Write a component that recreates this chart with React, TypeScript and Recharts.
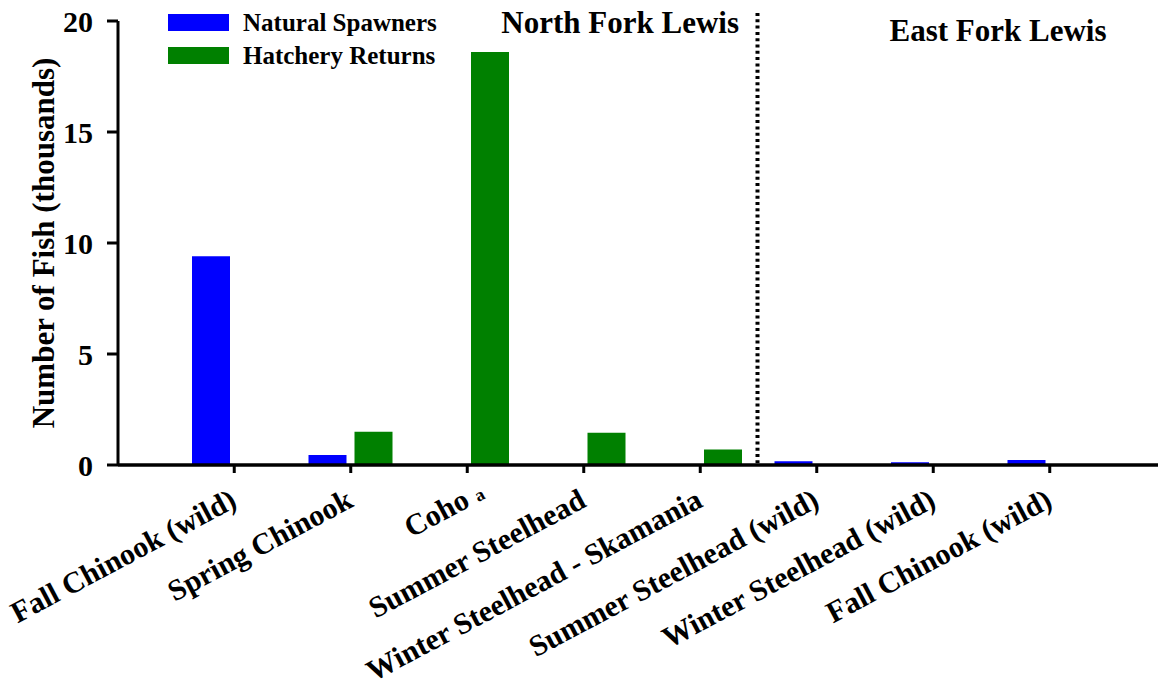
import { BarChart, Bar, XAxis, YAxis, ReferenceLine } from 'recharts';

const categoryKeys = ['nf-fall', 'nf-spring', 'nf-coho', 'nf-summer', 'nf-skamania', 'ef-summer', 'ef-winter', 'ef-fall'];
const categoryLabels = [
  'Fall Chinook (wild)',
  'Spring Chinook',
  'Coho',
  'Summer Steelhead',
  'Winter Steelhead - Skamania',
  'Summer Steelhead (wild)',
  'Winter Steelhead (wild)',
  'Fall Chinook (wild)',
];
const naturalSpawners = [9.4, 0.45, 0, 0, 0, 0.17, 0.12, 0.22];
const hatcheryReturns = [0, 1.5, 18.6, 1.45, 0.7, 0, 0, 0];
const yTicks = [0, 5, 10, 15, 20];
const seriesNames = ['Natural Spawners', 'Hatchery Returns'];
const seriesColors = ['#0000ff', '#008000'];
const footnoteIndex = 2;

const data = categoryKeys.map((key, i) => ({
  key,
  natural: naturalSpawners[i],
  hatchery: hatcheryReturns[i],
}));

const FONT = '"Liberation Serif", "Times New Roman", serif';

function CategoryTick(props: any) {
  const { x, y, payload } = props;
  const i = payload.index;
  return (
    <g transform={`translate(${x + 4},${y + 31}) rotate(-28)`}>
      <text x={0} y={0} textAnchor="end" fontFamily={FONT} fontWeight="bold" fontSize={30} fill="#000">
        {categoryLabels[i]}
      </text>
      {i === footnoteIndex && (
        <text x={8} y={0} fontFamily={FONT} fontWeight="bold" fontSize={18} fill="#000">a</text>
      )}
    </g>
  );
}

function YTitle(props: any) {
  const { viewBox } = props;
  const cy = viewBox.y + viewBox.height / 2;
  return (
    <text
      x={54}
      y={cy}
      transform={`rotate(-90, 54, ${cy})`}
      textAnchor="middle"
      fontFamily={FONT}
      fontWeight="bold"
      fontSize={31}
      fill="#000"
    >
      Number of Fish (thousands)
    </text>
  );
}

function LegendBox() {
  return (
    <div style={{ position: 'absolute', left: 168, top: 6, fontFamily: FONT, fontWeight: 'bold', fontSize: 25, lineHeight: 1 }}>
      {seriesNames.map((name, i) => (
        <div key={name} style={{ display: 'flex', alignItems: 'center', height: 33 }}>
          <div style={{ width: 61, height: 17, background: seriesColors[i], marginRight: 14 }} />
          <span style={{ color: '#000', whiteSpace: 'nowrap' }}>{name}</span>
        </div>
      ))}
    </div>
  );
}

function DottedDivider(props: any) {
  const { x1, y1, x2, y2 } = props;
  const top = Math.min(y1, y2) - 8;
  const bottom = Math.max(y1, y2);
  return <line x1={x1 - 1} x2={x2 - 1} y1={top} y2={bottom} stroke="#000" strokeWidth={4} strokeDasharray="3 3.3" />;
}

export default function App() {
  return (
    <div style={{ position: 'absolute', left: 0, top: 0, width: 1158, height: 692, background: '#fff' }}>
      <BarChart
        width={1158}
        height={692}
        data={data}
        margin={{ top: 21, right: 0, bottom: 0, left: 0 }}
        barSize={38}
        barGap={8}
      >
        <XAxis
          dataKey="key"
          height={227}
          interval={0}
          padding={{ left: 58, right: 50 }}
          axisLine={{ stroke: '#000', strokeWidth: 3.5 }}
          tickLine={{ stroke: '#000', strokeWidth: 3 }}
          tickSize={8}
          tick={<CategoryTick />}
        />
        <YAxis
          width={118}
          domain={[0, 20]}
          ticks={yTicks}
          interval={0}
          axisLine={{ stroke: '#000', strokeWidth: 3 }}
          tickLine={{ stroke: '#000', strokeWidth: 3 }}
          tickSize={11}
          tickMargin={14}
          tick={{ fontFamily: FONT, fontWeight: 'bold', fontSize: 30, fill: '#000' }}
          label={<YTitle />}
        />
        <ReferenceLine x="nf-skamania" position="end" shape={<DottedDivider />} />
        <Bar dataKey="natural" name={seriesNames[0]} fill={seriesColors[0]} isAnimationActive={false} />
        <Bar dataKey="hatchery" name={seriesNames[1]} fill={seriesColors[1]} isAnimationActive={false} />
        <text x={739} y={33} textAnchor="end" fontFamily={FONT} fontWeight="bold" fontSize={31} fill="#000">
          North Fork Lewis
        </text>
        <text x={998} y={41} textAnchor="middle" fontFamily={FONT} fontWeight="bold" fontSize={31} fill="#000">
          East Fork Lewis
        </text>
      </BarChart>
      <LegendBox />
    </div>
  );
}
